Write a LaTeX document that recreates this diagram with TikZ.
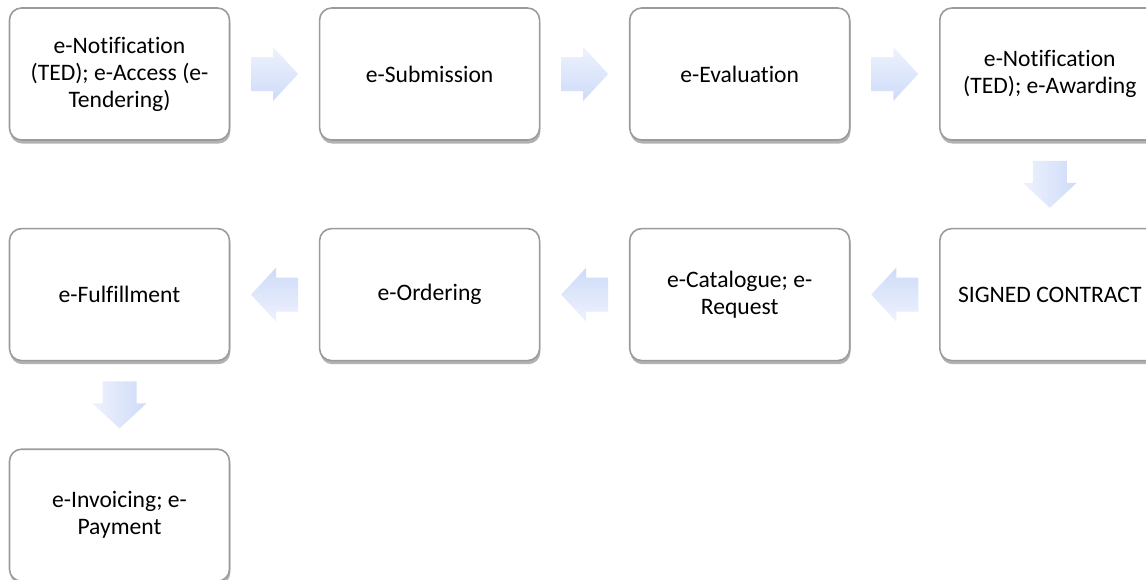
\documentclass[tikz,border=0pt]{standalone}
\usepackage{fontspec}
\setmainfont{Carlito}[Ligatures=NoCommon]
\usepackage{tikz}
\usetikzlibrary{positioning,shadows,calc}
\definecolor{boxline}{RGB}{155,155,155}
\definecolor{arrowtop}{RGB}{238,242,253}
\definecolor{arrowbot}{RGB}{206,219,248}
\tikzstyle{stagebox} = [draw=boxline, line width=0.8pt, rounded corners=6pt, fill=white,
  minimum width=110pt, minimum height=66pt, align=center, inner sep=0pt,
  font=\fontsize{11.8}{13.5}\selectfont,
  drop shadow={shadow xshift=0.4pt, shadow yshift=-1.8pt, fill=black, opacity=0.3}]
\tikzset{
  blockarrow/.pic={
    \path[pic actions] (-11.75pt,-8.5pt) -- (-0.75pt,-8.5pt) -- (-0.75pt,-13.5pt)
      -- (11.75pt,0pt) -- (-0.75pt,13.5pt) -- (-0.75pt,8.5pt) -- (-11.75pt,8.5pt) -- cycle;
  }
}
\tikzstyle{goright} = [top color=arrowtop, bottom color=arrowbot]
\tikzstyle{godown} = [rotate=-90, left color=arrowtop, right color=arrowbot]
\tikzstyle{goleft} = [rotate=180, top color=arrowbot, bottom color=arrowtop]

\begin{document}
\begin{tikzpicture}[node distance=43.5pt and 44.25pt]
\clip (-59.75pt,37pt) rectangle (513.25pt,-252.5pt);
% first row
\node[stagebox] (notice) at (0,0) {e-Notification\\(TED); e-Access (e-\\Tendering)};
\node[stagebox, right=of notice] (submit) {e-Submission};
\node[stagebox, right=of submit] (evaluate) {e-Evaluation};
\node[stagebox, right=of evaluate] (award) {e-Notification\\(TED); e-Awarding};

% second row (right to left)
\node[stagebox, below=of award] (contract) {SIGNED CONTRACT};
\node[stagebox, below=of evaluate] (catalogue) {e-Catalogue; e-\\Request};
\node[stagebox, below=of submit] (ordering) {e-Ordering};
\node[stagebox, below=of notice] (fulfil) {e-Fulfillment};

% third row
\node[stagebox, below=of fulfil] (invoice) {e-Invoicing; e-\\Payment};

% block arrows in the middle of each gap
\pic[goright] at ($(notice.east)!0.5!(submit.west)$) {blockarrow};
\pic[goright] at ($(submit.east)!0.5!(evaluate.west)$) {blockarrow};
\pic[goright] at ($(evaluate.east)!0.5!(award.west)$) {blockarrow};
\pic[godown] at ($(award.south)!0.5!(contract.north)$) {blockarrow};
\pic[goleft] at ($(contract.west)!0.5!(catalogue.east)$) {blockarrow};
\pic[goleft] at ($(catalogue.west)!0.5!(ordering.east)$) {blockarrow};
\pic[goleft] at ($(ordering.west)!0.5!(fulfil.east)$) {blockarrow};
\pic[godown] at ($(fulfil.south)!0.5!(invoice.north)$) {blockarrow};
\end{tikzpicture}
\end{document}
